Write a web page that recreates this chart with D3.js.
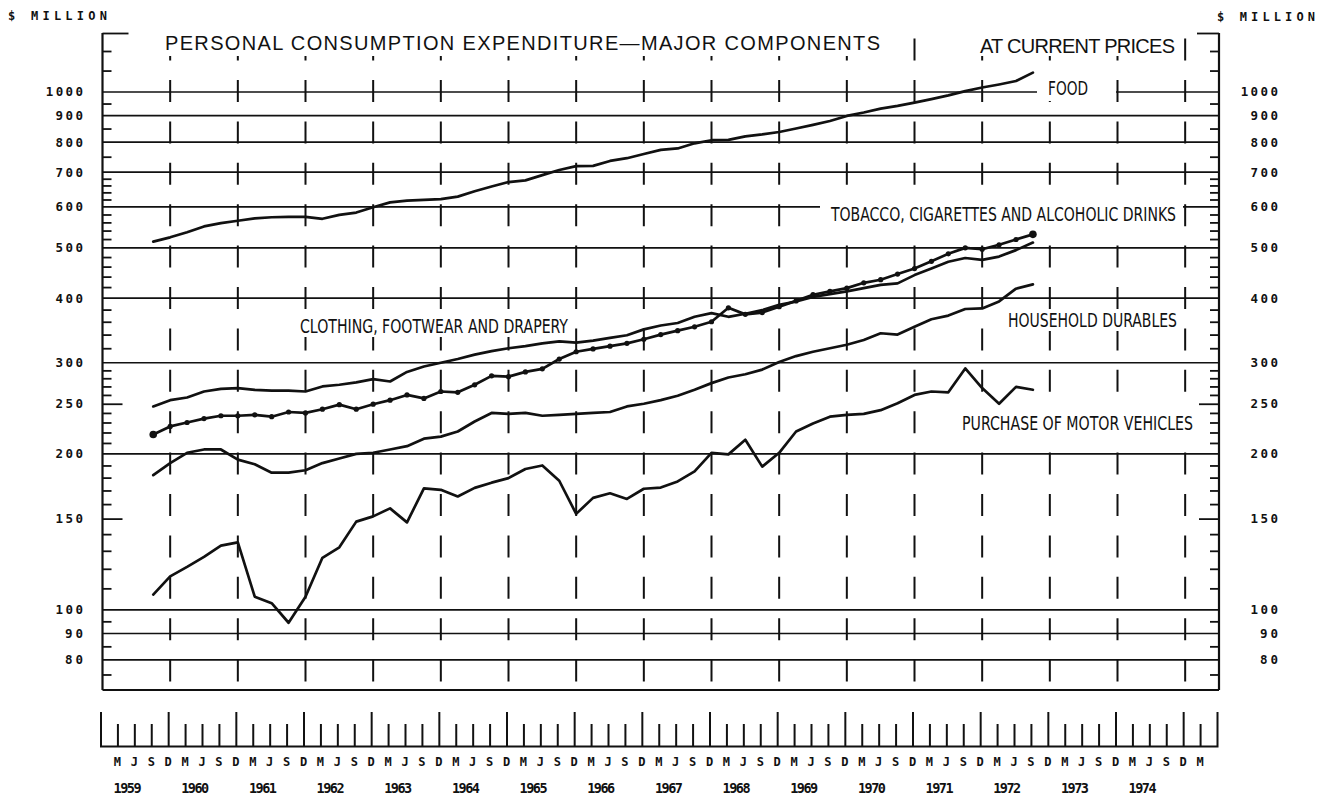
<!DOCTYPE html>
<html>
<head>
<meta charset="utf-8">
<title>Personal consumption expenditure — major components</title>
<script src="https://cdn.jsdelivr.net/npm/d3@7/dist/d3.min.js"></script>
<style>
html,body{margin:0;padding:0;background:#fff;}
svg{display:block;background:#fff;}
</style>
</head>
<body>
<svg id="chart" width="1331" height="797" viewBox="0 0 1331 797"></svg>
<script>
// ---------------- DATA ----------------
const quarters = [
  "Sep 1959","Dec 1959",
  "Mar 1960","Jun 1960","Sep 1960","Dec 1960",
  "Mar 1961","Jun 1961","Sep 1961","Dec 1961",
  "Mar 1962","Jun 1962","Sep 1962","Dec 1962",
  "Mar 1963","Jun 1963","Sep 1963","Dec 1963",
  "Mar 1964","Jun 1964","Sep 1964","Dec 1964",
  "Mar 1965","Jun 1965","Sep 1965","Dec 1965",
  "Mar 1966","Jun 1966","Sep 1966","Dec 1966",
  "Mar 1967","Jun 1967","Sep 1967","Dec 1967",
  "Mar 1968","Jun 1968","Sep 1968","Dec 1968",
  "Mar 1969","Jun 1969","Sep 1969","Dec 1969",
  "Mar 1970","Jun 1970","Sep 1970","Dec 1970",
  "Mar 1971","Jun 1971","Sep 1971","Dec 1971",
  "Mar 1972","Jun 1972","Sep 1972"
];
const food = [514,524,536,550,558,564,570,573,574,574,
  569,579,585,599,612,617,619,621,628,643,
  657,670,675,691,707,719,720,736,745,759,
  773,778,796,807,808,821,828,837,850,864,
  879,899,913,929,940,954,969,985,1004,1020,
  1034,1050,1090];
const tobacco = [218,226,230,234,237,237,238,236,241,240,
  244,249,244,249.5,254,260,256,264,263,272,
  283,282,288,292,305,315,319,323,327,333,
  340,346,352,360,383,372,375,385,395,406,
  412,418,428,434,445,456,471,487,500,497,
  507,519,531];
const clothing = [247,254,257,264,267,268,266,265,265,264,
  270,272,275,279,276,288,295,300,305,311,
  316,320,323,327,330,328,331,335,339,348,
  354,358,368,374,368,373,379,388,394,402,
  407,412,418,424,427,443,456,470,478,474,
  481,495,512];
const household = [182,192,201,204,204,195,191,184,184,186,
  192,196,200,201,204,207,214,216,221,231,
  240,239,240,237,238,239,240,241,247,250,
  254,259,266,274,281,285,291,301,309,315,
  320,325,332,342,340,352,364,370,381,382,
  394,417,425];
const motorVehicles = [107,116,121,126.5,133,135,106,103,94.4,106,
  126,132,148,151.5,157,147.5,171.6,170.5,165.5,172,
  176,179.6,187,190,177.5,153.2,164.5,167.9,163.7,171.3,
  172.2,177,185,201,199.6,213,189,201,221,229,
  236,238,239,243,250.6,260,264,263,292.5,268,
  250,269.5,266];

const seriesNames = ["FOOD","TOBACCO, CIGARETTES AND ALCOHOLIC DRINKS",
  "CLOTHING, FOOTWEAR AND DRAPERY","HOUSEHOLD DURABLES","PURCHASE OF MOTOR VEHICLES"];

const gridValues = [1000,900,800,700,600,500,400,300,200,100,90,80];
const axisLabelValues = [1000,900,800,700,600,500,400,300,250,200,150,100,90,80];
const minorTickValues = [1200,1100,950,850,750,680,660,640,620,580,560,540,520,
  480,460,440,420,380,360,340,320,290,280,270,260,240,230,220,210,
  190,180,170,160,140,130,120,110,95,85,75];
const longTickValues = [250,150];
const topTickValue = [1300];
const monthLetters = ["D","M","J","S"]; // quarter ends: Dec, Mar, Jun, Sep
const years = [1959,1960,1961,1962,1963,1964,1965,1966,1967,1968,1969,1970,1971,1972,1973,1974];

const titleText = "PERSONAL CONSUMPTION EXPENDITURE\u2014MAJOR COMPONENTS";
const subtitleText = "AT CURRENT PRICES";
const unitText = "$ MILLION";

// ---------------- LAYOUT ----------------
const monthNum = {Mar:3, Jun:6, Sep:9, Dec:12};
const tOf = s => { const p = s.split(" "); return +p[1] + monthNum[p[0]]/12; };

const svg = d3.select("#chart");
const INK = "#111";
const x = d3.scaleLinear().domain([1959, 1975.5]).range([102.5, 1219]);
const y = d3.scaleLog().domain([70, 1300]).range([690, 33]);
const X0 = x.range()[0], X1 = x.range()[1];
const monoFont = "'DejaVu Sans Mono','Liberation Mono',monospace";
const condFont = "'DejaVu Sans Condensed','Liberation Sans Narrow','DejaVu Sans',sans-serif";
const sansFont = "'Liberation Sans',Arial,Helvetica,sans-serif";

// horizontal grid lines
svg.append("g").selectAll("line").data(gridValues).join("line")
  .attr("x1", X0).attr("x2", X1)
  .attr("y1", d => y(d)).attr("y2", d => y(d))
  .attr("stroke", INK).attr("stroke-width", 1.7);

// vertical dashed year lines (Dec of each year)
const yearLines = d3.range(1960, 1976);
svg.append("g").selectAll("line").data(yearLines).join("line")
  .attr("x1", d => x(d)).attr("x2", d => x(d))
  .attr("y1", y(1300)).attr("y2", y(70))
  .attr("stroke", INK).attr("stroke-width", 2)
  .attr("stroke-dasharray", "22 19.4").attr("stroke-dashoffset", 35.8);

// white masks behind titles/labels (gaps in grid)
const masks = [
  [158, 30, 730, 26],     // title
  [975, 30, 205, 26],     // subtitle
  [1037, 62, 79, 39],     // FOOD
  [820, 199, 363, 28],    // TOBACCO...
  [296, 315, 276, 22],    // CLOTHING...
  [1004, 309, 178, 22],   // HOUSEHOLD...
  [957, 411, 240, 24]     // PURCHASE...
];
svg.append("g").selectAll("rect").data(masks).join("rect")
  .attr("x", d => d[0]).attr("y", d => d[1]).attr("width", d => d[2]).attr("height", d => d[3])
  .attr("fill", "#fff");

// frame
const frame = svg.append("g").attr("stroke", INK).attr("stroke-width", 2.2).attr("fill", "none");
frame.append("line").attr("x1", X0).attr("x2", X0).attr("y1", y(1300)).attr("y2", y(70));
frame.append("line").attr("x1", X1).attr("x2", X1).attr("y1", y(1300)).attr("y2", y(70));
frame.append("line").attr("x1", X0).attr("x2", X1).attr("y1", y(70)).attr("y2", y(70));

// y axis ticks (left & right) using d3 axes
function tickAxis(axisFn, pos, values, size) {
  const g = svg.append("g").attr("transform", `translate(${pos},0)`)
    .call(axisFn(y).tickValues(values).tickSize(size).tickFormat(""));
  g.select(".domain").remove();
  g.selectAll("line").attr("stroke", INK).attr("stroke-width", 1.8);
  return g;
}
tickAxis(d3.axisLeft, X0, minorTickValues, -9);
tickAxis(d3.axisLeft, X0, longTickValues, -20);
tickAxis(d3.axisLeft, X0, topTickValue, -26);
tickAxis(d3.axisRight, X1, minorTickValues, -9);
tickAxis(d3.axisRight, X1, longTickValues, -20);
tickAxis(d3.axisRight, X1, topTickValue, -22);

// y axis labels
function labelAxis(axisFn, pos, anchorX) {
  const g = svg.append("g").attr("transform", `translate(${pos},0)`)
    .call(axisFn(y).tickValues(axisLabelValues).tickSize(0).tickFormat(d3.format("d")));
  g.select(".domain").remove();
  g.selectAll("text")
    .attr("x", anchorX).attr("text-anchor", "end")
    .attr("font-family", monoFont).attr("font-weight", "bold").attr("font-size", 12.5)
    .attr("fill", INK)
    .attr("textLength", function(){ return this.textContent.length * 9.7 - 1.5; })
    .attr("lengthAdjust", "spacing");
  g.attr("font-family", null).attr("font-size", null);
}
labelAxis(d3.axisLeft, X0, 83 - X0);
labelAxis(d3.axisRight, X1, 1278 - X1);

// unit labels
svg.append("text").text(unitText).attr("x", 8).attr("y", 20)
  .attr("font-family", monoFont).attr("font-weight", "bold").attr("font-size", 12)
  .attr("textLength", 99).attr("lengthAdjust", "spacing").attr("fill", INK);
svg.append("text").text(unitText).attr("x", 1217).attr("y", 21)
  .attr("font-family", monoFont).attr("font-weight", "bold").attr("font-size", 12)
  .attr("textLength", 98).attr("lengthAdjust", "spacing").attr("fill", INK);

// titles
svg.append("text").text(titleText).attr("x", 165).attr("y", 50)
  .attr("font-family", sansFont).attr("font-size", 20).attr("fill", INK)
  .attr("textLength", 715).attr("lengthAdjust", "spacing");
svg.append("text").text(subtitleText).attr("x", 980).attr("y", 53)
  .attr("font-family", sansFont).attr("font-size", 20).attr("fill", INK)
  .attr("textLength", 195).attr("lengthAdjust", "spacing");

// series labels (layout positions)
const labelLayout = [
  {x: 1048, y: 95,  w: 40},
  {x: 831,  y: 221, w: 345},
  {x: 300,  y: 333, w: 268},
  {x: 1008, y: 327, w: 169},
  {x: 962,  y: 430, w: 231}
];
svg.append("g").selectAll("text").data(seriesNames).join("text")
  .text(d => d)
  .attr("x", (d,i) => labelLayout[i].x).attr("y", (d,i) => labelLayout[i].y)
  .attr("textLength", (d,i) => labelLayout[i].w).attr("lengthAdjust", "spacingAndGlyphs")
  .attr("font-family", condFont).attr("font-size", 19).attr("fill", INK);

// data lines
const tq = quarters.map(tOf);
const line = d3.line().x(d => x(d[0])).y(d => y(d[1]));
const allSeries = [food, tobacco, clothing, household, motorVehicles];
svg.append("g").selectAll("path").data(allSeries).join("path")
  .attr("d", s => line(s.map((v,i) => [tq[i], v])))
  .attr("fill", "none").attr("stroke", INK).attr("stroke-width", 2.7)
  .attr("stroke-linejoin", "round").attr("stroke-linecap", "round");

// tobacco markers
svg.append("g").selectAll("circle").data(tobacco).join("circle")
  .attr("cx", (d,i) => x(tq[i])).attr("cy", d => y(d))
  .attr("r", (d,i) => (i === 0 || i === tobacco.length - 1) ? 3.8 : 2.6)
  .attr("fill", INK);

// bottom time axis
const xb = x.copy().range([x.range()[0] - 2, x.range()[1] - 2]);
const quarterTicks = d3.range(1959.25, 1975.5, 0.25).filter(t => t % 1 !== 0);
const decTicks = d3.range(1960, 1976, 1);
const bAxis = svg.append("g").attr("transform", "translate(0,746)")
  .call(d3.axisTop(xb).tickValues(quarterTicks).tickSize(22).tickSizeOuter(34).tickFormat(""));
bAxis.selectAll("line,path").attr("stroke", INK).attr("stroke-width", 2);
const bAxis2 = svg.append("g").attr("transform", "translate(0,746)")
  .call(d3.axisTop(xb).tickValues(decTicks).tickSize(34).tickFormat(""));
bAxis2.select(".domain").remove();
bAxis2.selectAll("line").attr("stroke", INK).attr("stroke-width", 2);

const monthTicks = d3.range(1959.25, 1975.5, 0.25);
svg.append("g").selectAll("text").data(monthTicks).join("text")
  .text(t => monthLetters[Math.round((t % 1) * 4) % 4])
  .attr("x", t => xb(t)).attr("y", 766)
  .attr("text-anchor", "middle")
  .attr("font-family", monoFont).attr("font-weight", "bold").attr("font-size", 12)
  .attr("fill", INK);

svg.append("g").selectAll("text").data(years).join("text")
  .text(d => d)
  .attr("x", d => xb(d + 0.4)).attr("y", 793)
  .attr("text-anchor", "middle")
  .attr("font-family", monoFont).attr("font-weight", "bold").attr("font-size", 13.5)
  .attr("textLength", 28).attr("lengthAdjust", "spacing")
  .attr("fill", INK);
</script>
</body>
</html>
